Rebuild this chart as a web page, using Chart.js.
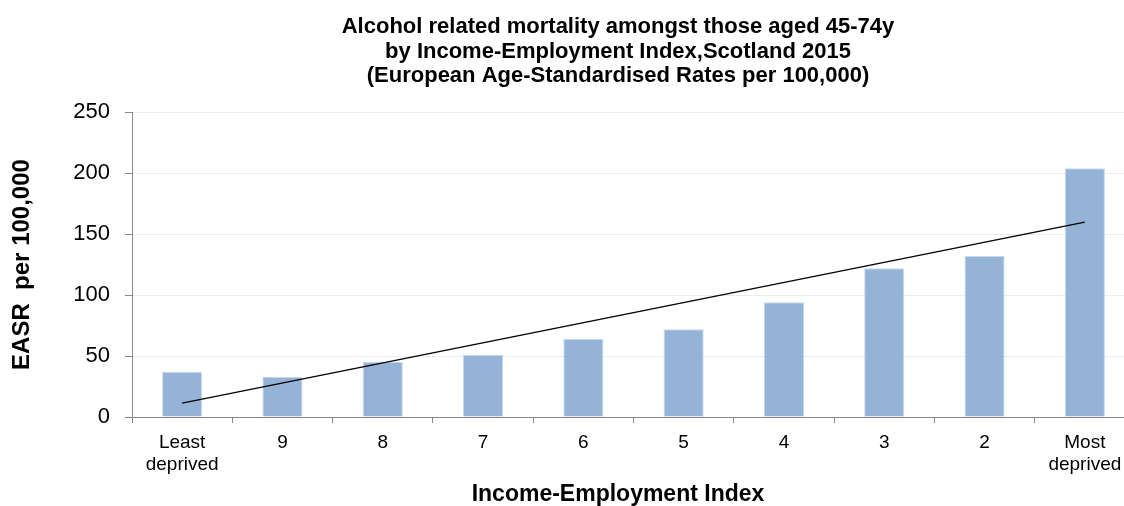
<!DOCTYPE html>
<html>
<head>
<meta charset="utf-8">
<script src="https://cdn.jsdelivr.net/npm/chart.js@4"></script>
<style>
    html, body { margin:0; padding:0; overflow:hidden; background:#fff; }
    #wrap { position:relative; width:1236px; height:506px; }
</style>
</head>
<body>
<div id="wrap"><canvas id="mortalityChart"></canvas></div>
<script>

const categories = [
    ['Least', 'deprived'], '9', '8', '7', '6', '5', '4', '3', '2', ['Most', 'deprived']
]

const easrRates = [37, 33, 45, 51, 64, 72, 94, 122, 132, 204]

// linear trend: value at the first and the last category
const trendStart = 11.3
const trendEnd = 159.7

const yMin = 0
const yMax = 250
const yStep = 50

const titleLines = [
    'Alcohol related mortality amongst those aged 45-74y',
    'by Income-Employment Index,Scotland 2015',
    '(European Age-Standardised Rates per 100,000)'
]

const fontFamily = '"Liberation Sans", Arial, sans-serif'
const axisGrey = '#868686'

// only the two ends are known, the line is drawn across the gap
const trendData = categories.map((c, i) => null)
trendData[0] = trendStart
trendData[categories.length - 1] = trendEnd

const ctx = document.getElementById('mortalityChart')

new Chart(ctx, {
    data: {
        labels: categories,
        datasets: [{
            type: 'line',
            label: 'Trend',
            data: trendData,
            spanGaps: true,
            borderColor: '#000',
            borderWidth: 1.3,
            pointRadius: 0,
            fill: false,
            order: 0
        }, {
            type: 'bar',
            label: 'EASR',
            data: easrRates,
            backgroundColor: '#95b3d7',
            borderColor: '#c9d8ec',
            borderWidth: 1,
            barPercentage: 0.4,
            categoryPercentage: 1,
            order: 1
        }]
    },
    options: {
        responsive: true,
        maintainAspectRatio: false,
        animation: false,
        layout: { padding: 0 },
        plugins: {
            legend: { display: false },
            tooltip: { enabled: false },
            title: {
                display: true,
                text: titleLines,
                color: '#000',
                font: { family: fontFamily, size: 22, weight: 'bold', lineHeight: 1.114 },
                padding: { top: 15, bottom: 23.5 }
            },
            subtitle: {
                display: true,
                position: 'bottom',
                text: 'Income-Employment Index',
                color: '#000',
                font: { family: fontFamily, size: 23, weight: 'bold', lineHeight: 1.0 },
                padding: { top: 0, bottom: 0 }
            }
        },
        scales: {
            x: {
                offset: true,
                grid: {
                    offset: true,
                    drawOnChartArea: false,
                    drawTicks: true,
                    tickLength: 6,
                    tickColor: axisGrey
                },
                border: { color: axisGrey, width: 1 },
                ticks: {
                    color: '#000',
                    padding: 9,
                    maxRotation: 0,
                    autoSkip: false,
                    font: { family: fontFamily, size: 19, lineHeight: 1.15 }
                },
                afterFit: scale => { scale.height = 66 }
            },
            y: {
                min: yMin,
                max: yMax,
                ticks: {
                    stepSize: yStep,
                    color: '#000',
                    padding: 15,
                    font: { family: fontFamily, size: 22 }
                },
                grid: {
                    color: '#ececec',
                    tickColor: axisGrey,
                    tickLength: 7
                },
                border: { color: axisGrey, width: 1 },
                title: {
                    display: true,
                    text: 'EASR  per 100,000',
                    color: '#000',
                    font: { family: fontFamily, size: 24, weight: 'bold' },
                    padding: { top: 8, bottom: 0 }
                },
                afterFit: scale => { scale.width = 132 }
            },
            // empty right-hand box so the titles centre where the original had them
            spacer: {
                type: 'linear',
                position: 'right',
                grid: { display: false },
                border: { display: false },
                ticks: { display: false },
                afterFit: scale => { scale.width = 101 }
            }
        }
    }
})

</script>
</body>
</html>
